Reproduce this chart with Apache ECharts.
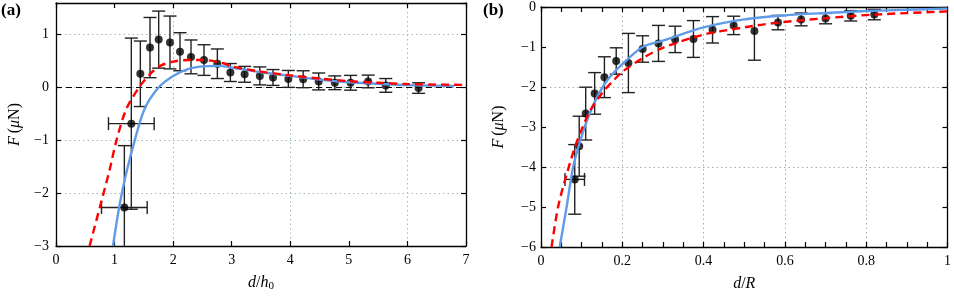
<!DOCTYPE html>
<html>
<head>
<meta charset="utf-8">
<script src="https://cdn.jsdelivr.net/npm/echarts@6/dist/echarts.min.js"></script>
<style>
html,body{margin:0;padding:0;background:#fff;}
#chart{width:954px;height:297px;}
</style>
</head>
<body>
<div id="chart"></div>
<script>
// ---------- Panel (a) data ----------
const aX    = [1.167, 1.286, 1.44, 1.605, 1.753, 1.946, 2.117, 2.305, 2.527, 2.755, 2.977, 3.22, 3.48, 3.705, 3.967, 4.22, 4.485, 4.76, 5.03, 5.33, 5.63, 6.19];
const aY    = [-2.27, -0.684, 0.26, 0.756, 0.907, 0.853, 0.678, 0.58, 0.52, 0.45, 0.284, 0.25, 0.22, 0.19, 0.163, 0.157, 0.115, 0.09, 0.09, 0.115, 0.04, -0.01];
const aYErr = [1.17, 1.62, 0.62, 0.57, 0.54, 0.5, 0.36, 0.32, 0.29, 0.28, 0.17, 0.15, 0.17, 0.15, 0.16, 0.16, 0.16, 0.13, 0.14, 0.12, 0.13, 0.1];
const aXErr = [0.39, 0.39, 0, 0, 0, 0, 0, 0, 0, 0, 0, 0, 0, 0, 0, 0, 0, 0, 0, 0, 0, 0];
const aRedX  = [0.574, 0.745, 0.915, 1.03, 1.2, 1.43, 1.61, 1.78, 2.0, 2.25, 2.52, 2.86, 3.0, 3.5, 4.0, 4.5, 5.0, 5.5, 6.0, 6.5, 7.0];
const aRedY  = [-3.0, -2.28, -1.56, -1.01, -0.41, 0.02, 0.26, 0.41, 0.49, 0.52, 0.52, 0.46, 0.40, 0.30, 0.23, 0.17, 0.12, 0.09, 0.066, 0.055, 0.05];
const aBlueX = [0.973, 1.086, 1.2, 1.342, 1.51, 1.75, 2.0, 2.25, 2.5, 2.75, 3.0, 3.5, 4.0, 4.5, 5.0, 5.5, 6.0, 6.5, 6.8];
const aBlueY = [-3.0, -2.22, -1.62, -1.01, -0.41, 0.0, 0.22, 0.35, 0.40, 0.41, 0.38, 0.29, 0.22, 0.15, 0.10, 0.07, 0.045, 0.035, 0.03];
const aZeroX = [0, 7];
const aZeroY = [0, 0];

// ---------- Panel (b) data ----------
const bX    = [0.083, 0.094, 0.11, 0.132, 0.156, 0.185, 0.215, 0.25, 0.289, 0.33, 0.375, 0.422, 0.474, 0.525, 0.583, 0.64, 0.70, 0.762, 0.82];
const bY    = [-4.31, -3.48, -2.665, -2.16, -1.755, -1.35, -1.40, -1.05, -0.91, -0.81, -0.80, -0.57, -0.46, -0.60, -0.39, -0.31, -0.29, -0.22, -0.19];
const bYErr = [0.87, 0.75, 0.66, 0.52, 0.51, 0.33, 0.74, 0.33, 0.45, 0.33, 0.46, 0.33, 0.23, 0.73, 0.18, 0.16, 0.13, 0.13, 0.13];
const bXErr = [0.024, 0, 0, 0, 0, 0, 0, 0, 0, 0, 0, 0, 0, 0, 0, 0, 0, 0, 0];
const bRedX  = [0.026, 0.042, 0.063, 0.087, 0.12, 0.152, 0.18, 0.2, 0.25, 0.3, 0.4, 0.5, 0.583, 0.7, 0.82, 1.0];
const bRedY  = [-6.0, -5.0, -4.19, -3.4, -2.61, -2.13, -1.82, -1.62, -1.28, -1.02, -0.69, -0.51, -0.39, -0.28, -0.19, -0.11];
const bBlueX = [0.046, 0.063, 0.079, 0.095, 0.1155, 0.14, 0.164, 0.2, 0.25, 0.3, 0.4, 0.5, 0.6, 0.7, 0.8, 0.9, 1.0];
const bBlueY = [-6.0, -5.0, -4.0, -3.4, -2.77, -2.21, -1.82, -1.43, -1.0, -0.84, -0.51, -0.31, -0.21, -0.15, -0.10, -0.07, -0.04];

const aXTicks = [0, 1, 2, 3, 4, 5, 6, 7];
const bXTicks = [0, 0.2, 0.4, 0.6, 0.8, 1];

// ---------- helpers ----------
const FONT = 'Liberation Serif';
const zip = (xs, ys) => xs.map((x, i) => [x, ys[i]]);
const errData = (xs, ys, ye, xe) => xs.map((x, i) => [x, ys[i], ys[i] - ye[i], ys[i] + ye[i], x - xe[i], x + xe[i]]);
const fmt = v => {
  const r = Math.round(v * 1000) / 1000;
  return r < 0 ? '\u2212' + Math.abs(r) : String(r);
};
const BAR = '#222';
function renderErr(params, api) {
  const x = api.value(0), y = api.value(1);
  const lo = api.coord([x, api.value(2)]);
  const hi = api.coord([x, api.value(3)]);
  const cap = 6.5;
  const st = { stroke: BAR, lineWidth: 1.4 };
  const ch = [
    { type: 'line', shape: { x1: lo[0], y1: lo[1], x2: hi[0], y2: hi[1] }, style: st },
    { type: 'line', shape: { x1: lo[0] - cap, y1: lo[1], x2: lo[0] + cap, y2: lo[1] }, style: st },
    { type: 'line', shape: { x1: hi[0] - cap, y1: hi[1], x2: hi[0] + cap, y2: hi[1] }, style: st }
  ];
  const xl = api.value(4), xh = api.value(5);
  if (xh - xl > 1e-9) {
    const l = api.coord([xl, y]), h = api.coord([xh, y]);
    ch.push({ type: 'line', shape: { x1: l[0], y1: l[1], x2: h[0], y2: h[1] }, style: st });
    ch.push({ type: 'line', shape: { x1: l[0], y1: l[1] - cap, x2: l[0], y2: l[1] + cap }, style: st });
    ch.push({ type: 'line', shape: { x1: h[0], y1: h[1] - cap, x2: h[0], y2: h[1] + cap }, style: st });
  }
  return { type: 'group', children: ch };
}

const axLine = { show: true, onZero: false, lineStyle: { color: '#000', width: 1.3 } };
const tick = { show: true, inside: true, length: 5, lineStyle: { color: '#000', width: 1.2 } };
const lab = { color: '#000', fontFamily: FONT, fontSize: 14, formatter: fmt };
const richName = {
  i: { fontFamily: FONT, fontStyle: 'italic', fontSize: 16, color: '#000', lineHeight: 18, verticalAlign: 'middle' },
  n: { fontFamily: FONT, fontSize: 16, color: '#000', lineHeight: 18, verticalAlign: 'middle' },
  s: { fontFamily: FONT, fontSize: 11, color: '#000', lineHeight: 11, verticalAlign: 'bottom' }
};

const gridA = { left: 56, top: 3, width: 410, height: 253 };
const gridB = { left: 541, top: 4, width: 410, height: 252 };

const option = {
  animation: false,
  backgroundColor: '#fff',
  textStyle: { fontFamily: FONT },
  grid: [Object.assign({ containLabel: false }, gridA), Object.assign({ containLabel: false }, gridB)],
  xAxis: [
    { gridIndex: 0, type: 'value', position: 'bottom', min: 0, max: 7, interval: 1,
      axisLine: axLine, axisTick: tick, axisLabel: Object.assign({ margin: 7 }, lab), splitLine: { show: false },
      name: '{i|d}{n|/}{i|h}{s|0}', nameLocation: 'middle', nameGap: 28, nameTextStyle: { fontFamily: FONT, rich: richName } },
    { gridIndex: 0, type: 'value', position: 'top', min: 0, max: 7, interval: 1,
      axisLine: axLine, axisTick: tick, axisLabel: { show: false }, splitLine: { show: false } },
    { gridIndex: 0, type: 'value', position: 'bottom', min: 0, max: 7, interval: 2,
      axisLine: { show: false }, axisTick: { show: false }, axisLabel: { show: false },
      splitLine: { show: true, lineStyle: { color: '#9fbfbf', type: [1.5, 3], width: 1 } } },
    { gridIndex: 1, type: 'value', position: 'bottom', min: 0, max: 1, interval: 0.2,
      axisLine: axLine, axisTick: tick, axisLabel: Object.assign({ margin: 7 }, lab),
      minorTick: { show: true, splitNumber: 4, length: 5, lineStyle: { color: '#000', width: 1.2 } },
      splitLine: { show: true, lineStyle: { color: '#aaaaaa', type: [1.5, 3], width: 1 } },
      name: '{i|d}{n|/}{i|R}', nameLocation: 'middle', nameGap: 28, nameTextStyle: { fontFamily: FONT, rich: richName } },
    { gridIndex: 1, type: 'value', position: 'top', min: 0, max: 1, interval: 0.2,
      axisLine: axLine, axisTick: tick, axisLabel: { show: false },
      minorTick: { show: true, splitNumber: 4, length: 5, lineStyle: { color: '#000', width: 1.2 } },
      splitLine: { show: false } }
  ],
  yAxis: [
    { gridIndex: 0, type: 'value', position: 'left', min: -3, max: 1.6, interval: 1,
      axisLine: axLine, axisTick: tick, axisLabel: Object.assign({ margin: 7, showMaxLabel: false }, lab),
      splitLine: { show: true, lineStyle: { color: '#9fbfbf', type: [1.5, 3], width: 1 } },
      name: '{i|F} {n|(}{i|\u03bc}{n|N)}', nameLocation: 'middle', nameGap: 32, nameRotate: 90,
      nameTextStyle: { fontFamily: FONT, rich: richName } },
    { gridIndex: 0, type: 'value', position: 'right', min: -3, max: 1.6, interval: 1,
      axisLine: axLine, axisTick: tick, axisLabel: { show: false }, splitLine: { show: false } },
    { gridIndex: 1, type: 'value', position: 'left', min: -6, max: 0, interval: 1,
      axisLine: axLine, axisTick: tick, axisLabel: Object.assign({ margin: 5 }, lab), splitLine: { show: false },
      name: '{i|F} {n|(}{i|\u03bc}{n|N)}', nameLocation: 'middle', nameGap: 33, nameRotate: 90,
      nameTextStyle: { fontFamily: FONT, rich: richName } },
    { gridIndex: 1, type: 'value', position: 'right', min: -6, max: 0, interval: 1,
      axisLine: axLine, axisTick: tick, axisLabel: { show: false }, splitLine: { show: false } },
    { gridIndex: 1, type: 'value', position: 'left', min: -6, max: 0, interval: 2,
      axisLine: { show: false }, axisTick: { show: false }, axisLabel: { show: false },
      splitLine: { show: true, lineStyle: { color: '#aaaaaa', type: [1.5, 3], width: 1 } } }
  ],
  graphic: [
    { type: 'text', left: 1, top: 2, style: { text: '(a)', fontFamily: FONT, fontWeight: 'bold', fontSize: 17, fill: '#000' } },
    { type: 'text', left: 483, top: 2, style: { text: '(b)', fontFamily: FONT, fontWeight: 'bold', fontSize: 17, fill: '#000' } }
  ],
  series: [
    { type: 'line', xAxisIndex: 0, yAxisIndex: 0, data: zip(aZeroX, aZeroY), showSymbol: false, silent: true,
      lineStyle: { color: '#000', width: 1.2, type: [6, 4] }, z: 1 },
    { type: 'custom', xAxisIndex: 0, yAxisIndex: 0, data: errData(aX, aY, aYErr, aXErr), renderItem: renderErr,
      clip: true, encode: { x: 0, y: 1 }, z: 2 },
    { type: 'scatter', xAxisIndex: 0, yAxisIndex: 0, data: zip(aX, aY), symbolSize: 8,
      itemStyle: { color: '#000' }, z: 3 },
    { type: 'line', xAxisIndex: 0, yAxisIndex: 0, data: zip(aBlueX, aBlueY), showSymbol: false, smooth: 0.3,
      lineStyle: { color: '#5f9be8', width: 2.4 }, z: 4 },
    { type: 'line', xAxisIndex: 0, yAxisIndex: 0, data: zip(aRedX, aRedY), showSymbol: false, smooth: 0.3,
      lineStyle: { color: '#ff0000', width: 2.4, type: [8, 5] }, z: 5 },

    { type: 'custom', xAxisIndex: 3, yAxisIndex: 2, data: errData(bX, bY, bYErr, bXErr), renderItem: renderErr,
      clip: true, encode: { x: 0, y: 1 }, z: 2 },
    { type: 'scatter', xAxisIndex: 3, yAxisIndex: 2, data: zip(bX, bY), symbolSize: 8,
      itemStyle: { color: '#000' }, z: 3 },
    { type: 'line', xAxisIndex: 3, yAxisIndex: 2, data: zip(bBlueX, bBlueY), showSymbol: false, smooth: 0.3,
      lineStyle: { color: '#5f9be8', width: 2.4 }, z: 4 },
    { type: 'line', xAxisIndex: 3, yAxisIndex: 2, data: zip(bRedX, bRedY), showSymbol: false, smooth: 0.3,
      lineStyle: { color: '#ff0000', width: 2.4, type: [8, 5] }, z: 5 }
  ]
};
const chart = echarts.init(document.getElementById('chart'), null, { renderer: 'canvas' });
chart.setOption(option);
</script>
</body>
</html>
